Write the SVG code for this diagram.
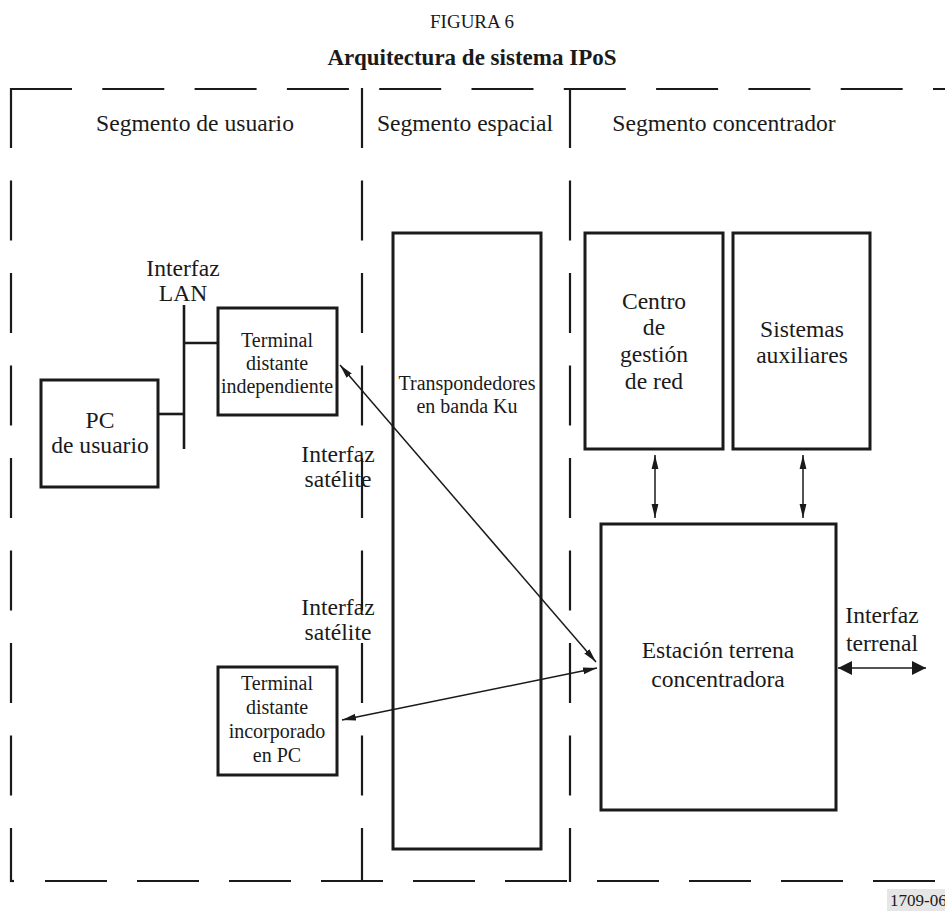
<svg xmlns="http://www.w3.org/2000/svg" width="945" height="911" viewBox="0 0 945 911">
  <defs>
    <style>
      text { font-family: "Liberation Serif", "Times New Roman", serif; fill: #1a1a1a; }
      .lbl { font-size: 20px; text-anchor: middle; }
      .small { font-size: 20px; text-anchor: middle; }
      .box { fill: #fff; stroke: #1a1a1a; stroke-width: 3; }
      .frame { stroke: #1a1a1a; stroke-width: 2.2; fill: none; }
      .vdash { stroke-dasharray: 60 32.5; }
      .wire { stroke: #1a1a1a; stroke-width: 2.6; fill: none; }
      .link { stroke: #1a1a1a; stroke-width: 1.5; fill: none; }
    </style>
    <marker id="tip" viewBox="0 0 14 8" refX="14" refY="4" markerWidth="14" markerHeight="8" markerUnits="userSpaceOnUse" orient="auto-start-reverse">
      <path d="M0,0.6 L14,4 L0,7.4 Z" fill="#1a1a1a"/>
    </marker>
    <marker id="bigtip" viewBox="0 0 14 14" refX="14" refY="7" markerWidth="14" markerHeight="14" markerUnits="userSpaceOnUse" orient="auto-start-reverse">
      <path d="M0,0 L14,7 L0,14 Z" fill="#1a1a1a"/>
    </marker>
  </defs>

  <rect width="945" height="911" fill="#fff"/>

  <!-- headings -->
  <text x="472" y="28" font-size="19" text-anchor="middle">FIGURA 6</text>
  <text x="472" y="65" font-size="23" font-weight="bold" text-anchor="middle">Arquitectura de sistema IPoS</text>

  <!-- segment frame; large labels are 20px text scaled up by 1.18 -->
  <g id="frame">
    <line class="frame" x1="10" y1="89" x2="945" y2="89" stroke-dasharray="62 30.3"/>
    <line class="frame" x1="45" y1="881" x2="945" y2="881" stroke-dasharray="62 30"/>
    <line class="frame" x1="10" y1="881" x2="14" y2="881"/>
    <line class="frame vdash" x1="11" y1="88" x2="11" y2="882"/>
    <line class="frame vdash" x1="362" y1="88" x2="362" y2="882"/>
    <line class="frame vdash" x1="570" y1="88" x2="570" y2="882"/>
    <text class="lbl" transform="translate(195 131) scale(1.18)">Segmento de usuario</text>
    <text class="lbl" transform="translate(465 131) scale(1.18)">Segmento espacial</text>
    <text class="lbl" transform="translate(724 131) scale(1.18)">Segmento concentrador</text>
  </g>

  <!-- user segment -->
  <g id="pc-usuario">
    <rect class="box" x="41" y="380" width="117" height="107"/>
    <text class="lbl" transform="translate(100 428) scale(1.18)">PC</text>
    <text class="lbl" transform="translate(100 453) scale(1.18)">de usuario</text>
  </g>

  <g id="lan">
    <line class="wire" x1="184" y1="305" x2="184" y2="449"/>
    <line class="wire" x1="184" y1="343" x2="218" y2="343"/>
    <line class="wire" x1="158" y1="414" x2="184" y2="414"/>
    <text class="lbl" transform="translate(183 276) scale(1.18)">Interfaz</text>
    <text class="lbl" transform="translate(183 301) scale(1.18)">LAN</text>
  </g>

  <g id="terminal-independiente">
    <rect class="box" x="218" y="308" width="119" height="107"/>
    <text class="small" x="277" y="347">Terminal</text>
    <text class="small" x="277" y="370">distante</text>
    <text class="small" x="277" y="393">independiente</text>
  </g>

  <g id="terminal-pc">
    <rect class="box" x="218" y="667" width="119" height="108"/>
    <text class="small" x="277" y="690">Terminal</text>
    <text class="small" x="277" y="714">distante</text>
    <text class="small" x="277" y="738">incorporado</text>
    <text class="small" x="277" y="762">en PC</text>
  </g>

  <g id="interfaz-satelite">
    <text class="lbl" transform="translate(338 462) scale(1.18)">Interfaz</text>
    <text class="lbl" transform="translate(338 487) scale(1.18)">satélite</text>
    <text class="lbl" transform="translate(338 615) scale(1.18)">Interfaz</text>
    <text class="lbl" transform="translate(338 640) scale(1.18)">satélite</text>
  </g>

  <!-- space segment -->
  <g id="transpondedores">
    <rect class="box" x="393" y="233" width="148" height="616"/>
    <text class="small" x="467" y="390">Transpondedores</text>
    <text class="small" x="467" y="413">en banda Ku</text>
  </g>

  <!-- hub segment -->
  <g id="centro-gestion">
    <rect class="box" x="585" y="233" width="138" height="216"/>
    <text class="lbl" transform="translate(654 309) scale(1.18)">Centro</text>
    <text class="lbl" transform="translate(654 335) scale(1.18)">de</text>
    <text class="lbl" transform="translate(654 362) scale(1.18)">gestión</text>
    <text class="lbl" transform="translate(654 389) scale(1.18)">de red</text>
  </g>

  <g id="sistemas-auxiliares">
    <rect class="box" x="733" y="233" width="137" height="216"/>
    <text class="lbl" transform="translate(802 337) scale(1.18)">Sistemas</text>
    <text class="lbl" transform="translate(802 363) scale(1.18)">auxiliares</text>
  </g>

  <g id="estacion-terrena">
    <rect class="box" x="601" y="524" width="235" height="286"/>
    <text class="lbl" transform="translate(718 658) scale(1.18)">Estación terrena</text>
    <text class="lbl" transform="translate(718 687) scale(1.18)">concentradora</text>
  </g>

  <g id="interfaz-terrenal">
    <text class="lbl" transform="translate(882 623) scale(1.18)">Interfaz</text>
    <text class="lbl" transform="translate(882 651) scale(1.18)">terrenal</text>
  </g>

  <!-- connectors -->
  <g id="connectors">
    <line class="link" x1="340" y1="365" x2="596" y2="662" marker-start="url(#tip)" marker-end="url(#tip)"/>
    <line class="link" x1="342" y1="720" x2="597" y2="668" marker-start="url(#tip)" marker-end="url(#tip)"/>
    <line class="link" x1="655" y1="455" x2="655" y2="518" marker-start="url(#tip)" marker-end="url(#tip)"/>
    <line class="link" x1="803" y1="455" x2="803" y2="518" marker-start="url(#tip)" marker-end="url(#tip)"/>
    <line class="link" x1="838" y1="668" x2="926" y2="668" stroke-width="2" marker-start="url(#bigtip)" marker-end="url(#bigtip)"/>
  </g>

  <!-- drawing number -->
  <rect x="887" y="889" width="58" height="22" fill="#e6e6e6"/>
  <text x="890" y="906" font-size="17">1709-06</text>
</svg>
